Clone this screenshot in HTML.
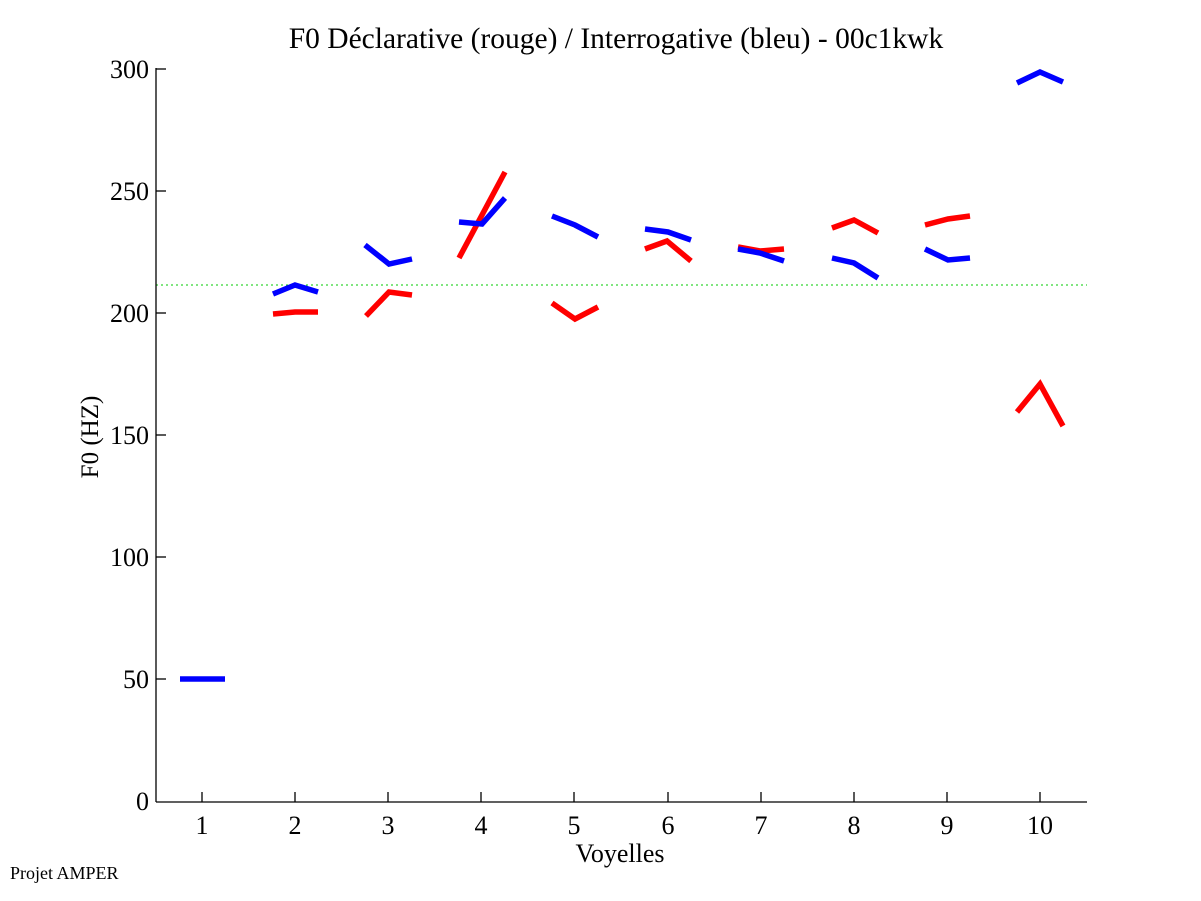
<!DOCTYPE html>
<html><head><meta charset="utf-8"><style>body{margin:0;background:#fff}svg{display:block}</style></head><body>
<svg width="1201" height="901" xmlns="http://www.w3.org/2000/svg" font-family="Liberation Serif, serif">
<text x="616" y="48" font-size="29.5" text-anchor="middle">F0 Déclarative (rouge) / Interrogative (bleu) - 00c1kwk</text>
<line x1="156" y1="285" x2="1087" y2="285" stroke="#00cc00" stroke-width="1" stroke-dasharray="2,3"/>
<g stroke="#000" stroke-width="1.3" fill="none">
<line x1="156" y1="68" x2="156" y2="802"/><line x1="156" y1="802" x2="1087" y2="802"/>
<line x1="156" y1="69" x2="166" y2="69"/><line x1="156" y1="191" x2="166" y2="191"/><line x1="156" y1="313" x2="166" y2="313"/><line x1="156" y1="435" x2="166" y2="435"/><line x1="156" y1="557" x2="166" y2="557"/><line x1="156" y1="679" x2="166" y2="679"/>
<line x1="202" y1="802" x2="202" y2="792"/><line x1="295" y1="802" x2="295" y2="792"/><line x1="388" y1="802" x2="388" y2="792"/><line x1="481" y1="802" x2="481" y2="792"/><line x1="574" y1="802" x2="574" y2="792"/><line x1="668" y1="802" x2="668" y2="792"/><line x1="761" y1="802" x2="761" y2="792"/><line x1="854" y1="802" x2="854" y2="792"/><line x1="947" y1="802" x2="947" y2="792"/><line x1="1040" y1="802" x2="1040" y2="792"/>
</g>
<g font-size="26" text-anchor="end">
<text x="149" y="78">300</text><text x="149" y="200">250</text><text x="149" y="322">200</text><text x="149" y="444">150</text><text x="149" y="566">100</text><text x="149" y="688">50</text><text x="149" y="810">0</text></g>
<g font-size="26" text-anchor="middle">
<text x="202" y="834">1</text><text x="295" y="834">2</text><text x="388" y="834">3</text><text x="481" y="834">4</text><text x="574" y="834">5</text><text x="668" y="834">6</text><text x="761" y="834">7</text><text x="854" y="834">8</text><text x="947" y="834">9</text><text x="1040" y="834">10</text>
<text x="620" y="862">Voyelles</text></g>
<text transform="translate(98,437) rotate(-90)" font-size="25" text-anchor="middle">F0 (HZ)</text>
<text x="10" y="879" font-size="18">Projet AMPER</text>
<g fill="none" stroke-width="5.5" stroke-linejoin="miter">
<g stroke="#ff0000">
<polyline points="273,314 295,312 318,312"/><polyline points="366,316 389,292 412,295"/><polyline points="459,258 505,172"/><polyline points="552,303 575,319 598,307"/><polyline points="645,249 667,241 691,261"/><polyline points="738,247 760,251 784,249"/><polyline points="832,228 854,220 878,233"/><polyline points="925,225 948,219 970,216"/><polyline points="1017,412 1040,384 1063,426"/>
</g>
<g stroke="#0000ff">
<polyline points="180,679 225,679"/><polyline points="273,294 295,285 318,292"/><polyline points="365,245 389,264 412,259"/><polyline points="459,222 482,224 505,198"/><polyline points="552,216 575,225 598,237"/><polyline points="645,229 668,232 691,240"/><polyline points="738,249 760,253 784,261"/><polyline points="832,258 854,263 878,278"/><polyline points="925,249 948,260 970,258"/><polyline points="1017,83 1040,72 1063,82"/>
</g></g>
</svg>
</body></html>
